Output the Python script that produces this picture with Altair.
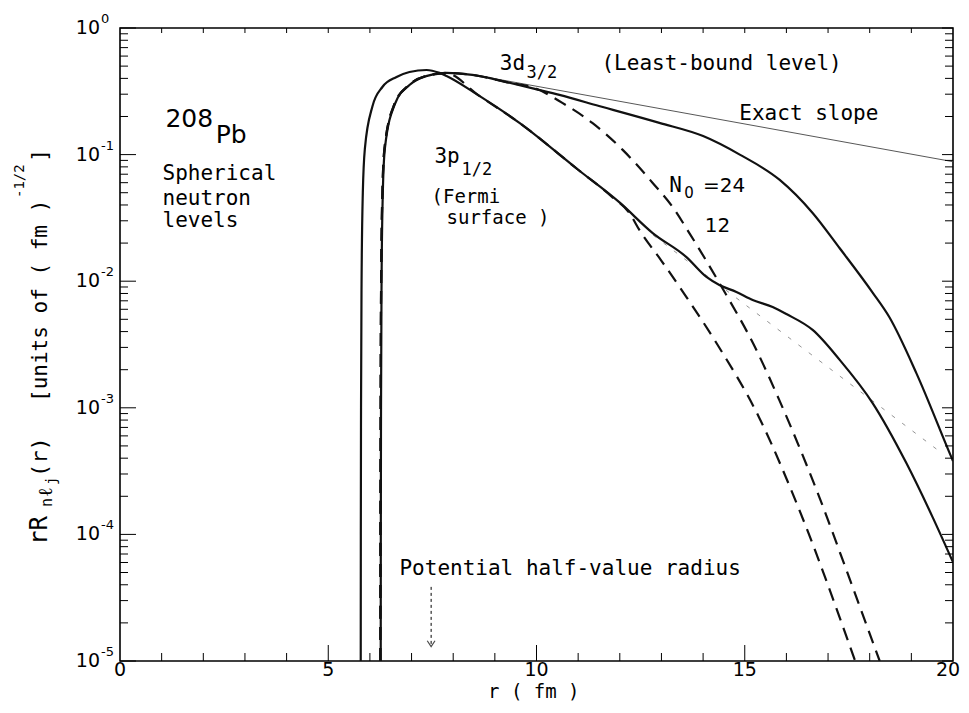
import altair as alt
import pandas as pd

# ---------------- data (r in fm) ----------------
# 3p1/2 level (solid)
r_3p = [5.78, 5.782, 5.787, 5.80, 5.83, 5.88, 6.06, 6.30, 6.64, 6.95, 7.36, 7.67, 7.84,
        8.6, 9.59, 11.0, 12.0, 12.79, 13.6, 14.08, 14.39, 14.8, 15.19, 15.67, 16.0,
        16.63, 17.28, 18.07, 18.88, 19.51, 20.0]
v_3p = [1e-5, 1e-4, 1e-3, 1e-2, 0.0501, 0.112, 0.240, 0.342, 0.410, 0.449, 0.466, 0.442, 0.418,
        0.295, 0.178, 0.0759, 0.0417, 0.0240, 0.0155, 0.0108, 0.00933, 0.00822, 0.00710, 0.00625, 0.00550,
        0.00412, 0.00239, 0.00109, 0.000366, 0.000137, 0.0000603]
# 3d3/2 level (solid)
r_3d = [6.26, 6.262, 6.267, 6.28, 6.31, 6.36, 6.6, 6.95, 7.35, 7.84, 8.46, 9.28, 10.07,
        10.55, 11.5, 12.95, 14.0, 14.88, 15.84, 16.63, 17.28, 18.07, 18.47, 19.12, 19.96, 20.0]
v_3d = [1e-5, 1e-4, 1e-3, 1e-2, 0.0501, 0.112, 0.251, 0.355, 0.417, 0.442, 0.426, 0.374, 0.324,
        0.296, 0.242, 0.178, 0.140, 0.100, 0.0631, 0.0346, 0.0182, 0.00813, 0.00521, 0.00188, 0.000408, 0.000380]
# oscillator expansion N0 = 24 (dashed)
r_n24 = [6.25, 6.252, 6.257, 6.27, 6.30, 6.35, 6.59, 6.94, 7.34, 7.84, 8.46, 9.28, 10.0,
         10.62, 11.34, 12.07, 12.79, 13.27, 13.67, 14.39, 15.28, 15.83, 16.79, 17.51, 18.24]
v_n24 = [1e-5, 1e-4, 1e-3, 1e-2, 0.0501, 0.112, 0.251, 0.355, 0.417, 0.442, 0.426, 0.374, 0.331,
         0.256, 0.178, 0.109, 0.0597, 0.0385, 0.0240, 0.00968, 0.00286, 0.00115, 0.000197, 0.0000453, 0.00001]
# oscillator expansion N0 = 12 (dashed)
r_n12 = [6.25, 6.252, 6.257, 6.27, 6.30, 6.35, 6.59, 6.94, 7.34, 7.84, 8.6, 9.59, 11.0,
         11.8, 12.23, 12.47, 13.0, 13.6, 14.32, 15.35, 16.31, 17.65]
v_n12 = [1e-5, 1e-4, 1e-3, 1e-2, 0.0501, 0.112, 0.251, 0.355, 0.417, 0.437, 0.295, 0.178, 0.0759,
         0.0468, 0.0346, 0.0254, 0.0145, 0.0075, 0.00325, 0.000832, 0.000156, 0.00001]
# exact asymptotic slopes (thin)
r_slope_3d = [8.5, 20.0]
v_slope_3d = [0.426, 0.0879]
r_slope_3p = [12.8, 19.6]
v_slope_3p = [0.0231, 0.000473]
# potential half-value radius marker
r_half = [7.47]
v_half_top = [3.85e-5]
v_half_tip = [1.3e-5]

# axis ticks / labels
x_label_vals = [0, 5, 10, 15]
x_label_txt = ["0", "5", "10", "15"]
x_last_val = [20]
x_last_txt = ["20"]
x_major = [5, 10, 15]
x_minor = [1, 2, 3, 4, 6, 7, 8, 9, 11, 12, 13, 14, 16, 17, 18, 19]
x_top = [1, 2, 3, 4, 5, 6, 7, 8, 9, 10, 11, 12, 13, 14, 15, 16, 17, 18, 19]
decades = [1, 0.1, 0.01, 0.001, 0.0001, 0.00001]
dec_exp = ["0", "-1", "-2", "-3", "-4", "-5"]
y_minor = [m * d for d in [1e-5, 1e-4, 1e-3, 1e-2, 1e-1] for m in [2, 3, 4, 5, 6, 7, 8, 9]]

# annotations (text, r, value, font size)
notes_mono = [
    ("Spherical", 1.02, 0.0631, 21),
    ("neutron", 1.02, 0.0400, 21),
    ("levels", 1.02, 0.0268, 21),
    ("3d", 9.12, 0.466, 21),
    ("3/2", 9.76, 0.403, 17),
    ("(Least-bound level)", 11.56, 0.466, 21),
    ("Exact slope", 14.87, 0.1875, 21),
    ("3p", 7.55, 0.0859, 21),
    ("1/2", 8.2, 0.069, 17),
    ("(Fermi", 7.48, 0.0415, 19),
    ("surface )", 7.84, 0.0285, 19),
    ("N", 13.19, 0.0507, 21),
    ("Potential half-value radius", 6.71, 4.79e-5, 21),
]
notes_sans = [
    ("208", 1.09, 0.165, 25),
    ("Pb", 2.3, 0.1236, 25),
    ("0", 13.55, 0.0454, 15),
    ("=24", 14.0, 0.0507, 20),
    ("12", 14.04, 0.0245, 20),
]

W, H = 833, 633
MONO = "DejaVu Sans Mono"
SANS = "DejaVu Sans"

xs = alt.Scale(domain=[0, 20], nice=False, zero=False)
ys = alt.Scale(type="log", domain=[1e-5, 1], nice=False)


def X(f):
    return alt.X(f, type="quantitative", scale=xs, axis=None)


def Y(f):
    return alt.Y(f, type="quantitative", scale=ys, axis=None)


def curve(r, v, dash=None, width=2.2, color="#111111"):
    kw = dict(color=color, strokeWidth=width, interpolate="monotone", clip=True)
    if dash:
        kw["strokeDash"] = dash
    return alt.Chart(pd.DataFrame({"r": r, "v": v})).mark_line(**kw).encode(x=X("r"), y=Y("v"))


layers = []
layers.append(curve(r_slope_3d, v_slope_3d, width=0.9, color="#444444"))
layers.append(curve(r_slope_3p, v_slope_3p, dash=[4, 9], width=0.9, color="#888888"))
layers.append(curve(r_3p, v_3p))
layers.append(curve(r_3d, v_3d))
layers.append(curve(r_n24, v_n24, dash=[13, 8]))
layers.append(curve(r_n12, v_n12, dash=[13, 8]))

# half-value radius arrow
half = pd.DataFrame({"r": r_half, "v1": v_half_top, "v2": v_half_tip})
layers.append(alt.Chart(half).mark_rule(color="black", strokeWidth=1, strokeDash=[3, 3]).encode(
    x=X("r"), y=Y("v1"), y2="v2"))
layers.append(alt.Chart(half).mark_point(shape="M-1,-1.5L0,0L1,-1.5", size=60, filled=False,
                                         color="black", strokeWidth=1.2).encode(x=X("r"), y=Y("v2")))


# ticks
def vticks(vals, y1, y2):
    return alt.Chart(pd.DataFrame({"r": vals})).mark_rule(color="black", strokeWidth=1).encode(
        x=X("r"), y=alt.value(y1), y2=alt.value(y2))


def hticks(vals, x1, x2):
    return alt.Chart(pd.DataFrame({"v": vals})).mark_rule(color="black", strokeWidth=1).encode(
        y=Y("v"), x=alt.value(x1), x2=alt.value(x2))


layers += [
    vticks(x_minor, H, H - 8),
    vticks(x_major, H, H - 16),
    vticks(x_top, 0, 5),
    hticks(y_minor, 0, 8),
    hticks(decades, 0, 16),
    hticks(y_minor, W, W - 8),
    hticks(decades, W, W - 11),
]

# tick labels
xl = pd.DataFrame({"r": x_label_vals, "t": x_label_txt})
layers.append(alt.Chart(xl).mark_text(font=SANS, fontSize=19, align="center", baseline="alphabetic",
                                      color="black").encode(x=X("r"), y=alt.value(648), text="t:N"))
xl_last = pd.DataFrame({"r": x_last_val, "t": x_last_txt})
layers.append(alt.Chart(xl_last).mark_text(font=SANS, fontSize=19, align="center", baseline="alphabetic",
                                           dx=-5, color="black").encode(x=X("r"), y=alt.value(648), text="t:N"))
yl = pd.DataFrame({"v": decades, "e": dec_exp, "b": ["10"] * len(decades)})
layers.append(alt.Chart(yl).mark_text(font=SANS, fontSize=19, align="right", baseline="alphabetic",
                                      dy=6, color="black").encode(y=Y("v"), x=alt.value(-20), text="b:N"))
layers.append(alt.Chart(yl).mark_text(font=SANS, fontSize=13, align="left", baseline="alphabetic",
                                      dy=-5, color="black").encode(y=Y("v"), x=alt.value(-19), text="e:N"))

# annotations
for table, font in [(notes_mono, MONO), (notes_sans, SANS)]:
    df = pd.DataFrame(table, columns=["t", "r", "v", "s"])
    layers.append(alt.Chart(df).mark_text(font=font, align="left", baseline="alphabetic",
                                          color="black").encode(
        x=X("r"), y=Y("v"), text="t:N", size=alt.Size("s:Q", scale=None, legend=None)))

# axis titles (pixel placed)
title_pieces = [
    ("rR", -73, 517, 24, 270),
    ("n", -68, 479, 15, 270),
    ("ℓ", -68, 469, 20, 270),
    ("j", -64, 457, 14, 270),
    ("(r)", -73, 449, 22, 270),
    ("[units of ( fm )", -73, 374, 21, 270),
    ("-1/2", -96, 170, 14, 270),
    ("]", -73, 134, 22, 270),
    ("r  ( fm )", 368, 670, 19, 0),
]
for s, px, py, fs, ang in title_pieces:
    kw = dict(font=MONO, fontSize=fs, align="left", baseline="alphabetic", color="black")
    if ang:
        kw["angle"] = ang
    layers.append(alt.Chart(pd.DataFrame({"t": [s]})).mark_text(**kw).encode(
        x=alt.value(px), y=alt.value(py), text="t:N"))

chart = alt.layer(*layers).properties(
    width=W, height=H,
    padding={"left": 112, "top": 20, "right": 8, "bottom": 43},
    autosize=alt.AutoSizeParams(type="none"),
).configure_view(stroke="black", strokeWidth=1.6)

chart.save("out.html", embed_options={"renderer": "svg", "actions": False})
